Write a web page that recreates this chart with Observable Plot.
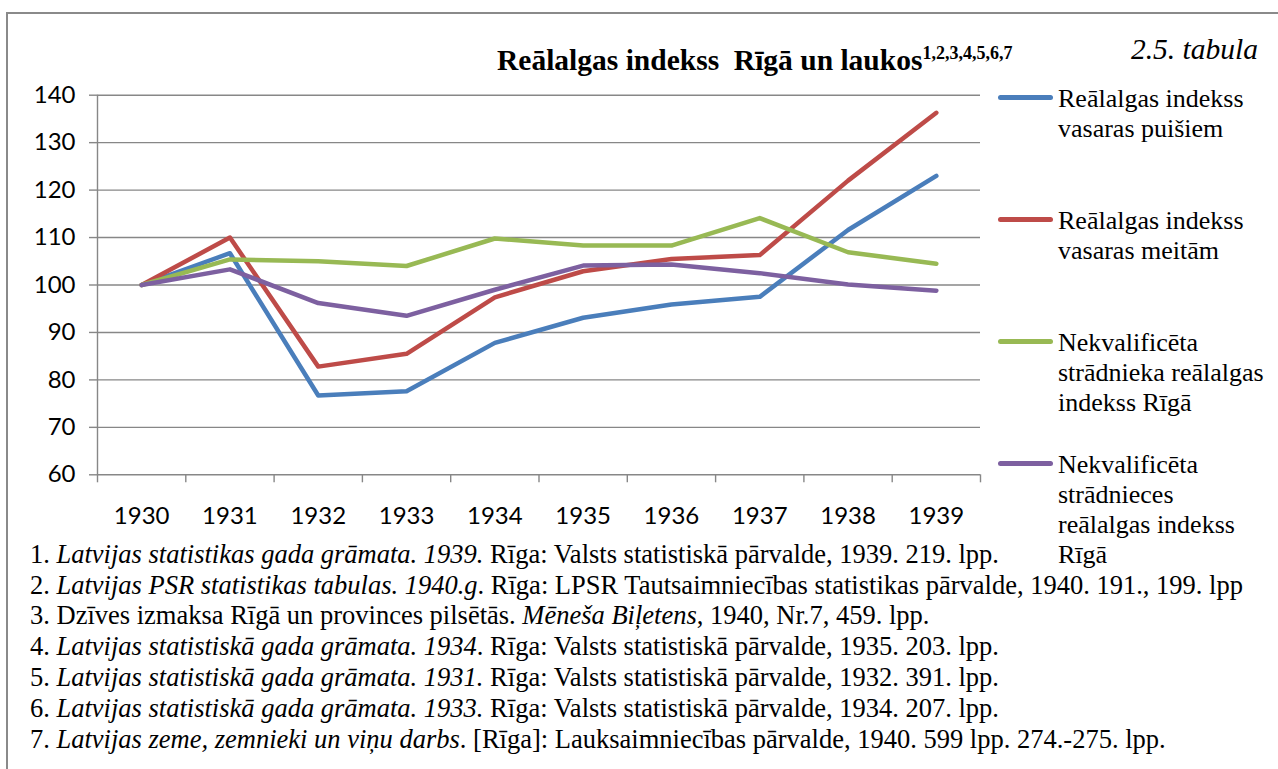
<!DOCTYPE html>
<html>
<head>
<meta charset="utf-8">
<script src="https://cdn.jsdelivr.net/npm/d3@7"></script>
<script src="https://cdn.jsdelivr.net/npm/@observablehq/plot@0.6"></script>
<style>
  html, body { margin: 0; padding: 0; background: #fff; }
  #page { position: relative; width: 1278px; height: 769px; overflow: hidden; background: #fff; }
  #frame { position: absolute; left: 6px; top: 12px; width: 1300px; height: 800px;
           border-left: 2px solid #8a8a8a; border-top: 2px solid #8a8a8a; }
  #chart { position: absolute; left: 0; top: 0; }
  .serif { font-family: "Liberation Serif", "Times New Roman", serif; color: #000; }
  #title { position: absolute; left: 497px; top: 46px; font-size: 29.5px; font-weight: bold;
           line-height: 1; white-space: pre; }
  #title sup { font-size: 18px; vertical-align: baseline; position: relative; top: -11px; }
  #tabula { position: absolute; right: 20px; top: 35px; font-size: 29.5px; font-style: italic; line-height: 1; white-space: pre; }
  .leg { position: absolute; left: 998px; }
  .leg .sw { position: absolute; left: 0; width: 55px; height: 4.5px; border-radius: 3px; }
  .leg .tx { position: absolute; left: 60px; font-size: 26px; line-height: 30px; white-space: nowrap; }
  .fn { position: absolute; left: 30px; font-size: 26.5px; line-height: 30.8px; white-space: pre; }
</style>
</head>
<body>
<div id="page">
  <div id="frame"></div>
  <div id="chart"></div>
  <div id="title" class="serif"></div>
  <div id="tabula" class="serif"></div>
  <div id="legend"></div>
  <div id="notes"></div>
</div>
<script>
// ---- data ----
const years = [1930, 1931, 1932, 1933, 1934, 1935, 1936, 1937, 1938, 1939];
const seriesNames = [
  "Reālalgas indekss vasaras puišiem",
  "Reālalgas indekss vasaras meitām",
  "Nekvalificēta strādnieka reālalgas indekss Rīgā",
  "Nekvalificēta strādnieces reālalgas indekss Rīgā"
];
const legendLines = [
  ["Reālalgas indekss", "vasaras puišiem"],
  ["Reālalgas indekss", "vasaras meitām"],
  ["Nekvalificēta", "strādnieka reālalgas", "indekss Rīgā"],
  ["Nekvalificēta", "strādnieces", "reālalgas indekss", "Rīgā"]
];
const seriesColors = ["#4A7EBB", "#BE4B48", "#98B954", "#7D60A0"];
const puisiem     = [100, 106.7, 76.7, 77.6, 87.8, 93.1, 95.9, 97.5, 111.6, 123.0];
const meitam      = [100, 110.0, 82.8, 85.5, 97.4, 102.9, 105.5, 106.3, 122.0, 136.3];
const stradnieks  = [100, 105.4, 105.0, 104.0, 109.8, 108.3, 108.3, 114.1, 106.9, 104.5];
const stradniece  = [100, 103.3, 96.2, 93.5, 99.0, 104.1, 104.3, 102.5, 100.1, 98.8];
const yTicks = [60, 70, 80, 90, 100, 110, 120, 130, 140];
const titleText = "Reālalgas indekss  Rīgā un laukos";
const titleSup = "1,2,3,4,5,6,7";
const tableLabel = "2.5. tabula";
// footnotes: [regular, italic, regular] pieces
const footnotes = [
  ["1. ", "Latvijas statistikas gada grāmata. 1939.", " Rīga: Valsts statistiskā pārvalde, 1939. 219. lpp."],
  ["2. ", "Latvijas PSR statistikas tabulas. 1940.g", ". Rīga: LPSR Tautsaimniecības statistikas pārvalde, 1940. 191., 199. lpp"],
  ["3. Dzīves izmaksa Rīgā un provinces pilsētās. ", "Mēneša Biļetens", ", 1940, Nr.7, 459. lpp."],
  ["4. ", "Latvijas statistiskā gada grāmata. 1934", ". Rīga: Valsts statistiskā pārvalde, 1935. 203. lpp."],
  ["5. ", "Latvijas statistiskā gada grāmata. 1931.", " Rīga: Valsts statistiskā pārvalde, 1932. 391. lpp."],
  ["6. ", "Latvijas statistiskā gada grāmata. 1933.", " Rīga: Valsts statistiskā pārvalde, 1934. 207. lpp."],
  ["7. ", "Latvijas zeme, zemnieki un viņu darbs", ". [Rīga]: Lauksaimniecības pārvalde, 1940. 599 lpp. 274.-275. lpp."]
];

// ---- build table ----
const valuesBySeries = [puisiem, meitam, stradnieks, stradniece];
const rows = [];
valuesBySeries.forEach((vals, si) => {
  vals.forEach((v, i) => rows.push({series: seriesNames[si], year: years[i], value: v}));
});
const boundaries = years.map(y => y - 0.5).concat([years[years.length - 1] + 0.5]);

const grid = "#878787";
const chart = Plot.plot({
  width: 1278,
  height: 540,
  marginLeft: 97,
  marginRight: 298,
  marginTop: 94.7,
  marginBottom: 65.7,
  style: {fontFamily: "Lato, sans-serif", fontSize: "24px", color: "#000", background: "transparent"},
  x: {type: "linear", domain: [boundaries[0], boundaries[boundaries.length - 1]]},
  y: {domain: [60, 140]},
  color: {domain: seriesNames, range: seriesColors},
  marks: [
    Plot.ruleY(yTicks, {stroke: grid, strokeWidth: 1.4}),
    Plot.ruleX([boundaries[0]], {stroke: grid, strokeWidth: 1.4}),
    Plot.axisY({ticks: yTicks, tickSize: 8, tickPadding: 14, stroke: grid, strokeWidth: 1.4, fill: "#000", label: null}),
    Plot.axisX({ticks: boundaries, tickSize: 8, tickFormat: () => "", stroke: grid, strokeWidth: 1.4, label: null}),
    Plot.axisX({ticks: years, tickSize: 0, tickPadding: 32, tickFormat: d => String(d), fill: "#000", label: null}),
    Plot.line(rows, {x: "year", y: "value", z: "series", stroke: "series", strokeWidth: 4.5,
                     strokeLinejoin: "round", strokeLinecap: "round"})
  ]
});
document.getElementById("chart").appendChild(chart);

// ---- titles ----
const t = document.getElementById("title");
t.textContent = titleText;
const sup = document.createElement("sup");
sup.textContent = titleSup;
t.appendChild(sup);
document.getElementById("tabula").textContent = tableLabel;

// ---- legend ----
const legendY = [97.3, 219.3, 341.7, 463.3];
const legend = document.getElementById("legend");
seriesNames.forEach((name, i) => {
  const g = document.createElement("div");
  g.className = "leg serif";
  g.style.top = legendY[i] + "px";
  const sw = document.createElement("div");
  sw.className = "sw";
  sw.style.background = seriesColors[i];
  sw.style.top = "-2.25px";
  g.appendChild(sw);
  const tx = document.createElement("div");
  tx.className = "tx";
  tx.style.top = (10 - 23.8) + "px";
  tx.innerHTML = legendLines[i].join("<br>");
  g.appendChild(tx);
  legend.appendChild(g);
});

// ---- footnotes ----
const notes = document.getElementById("notes");
footnotes.forEach((parts, i) => {
  const d = document.createElement("div");
  d.className = "fn serif";
  d.style.top = (563 - 24.3 + i * 30.8) + "px";
  parts.forEach((p, j) => {
    const s = document.createElement(j === 1 ? "i" : "span");
    s.textContent = p;
    d.appendChild(s);
  });
  notes.appendChild(d);
});
</script>
</body>
</html>
